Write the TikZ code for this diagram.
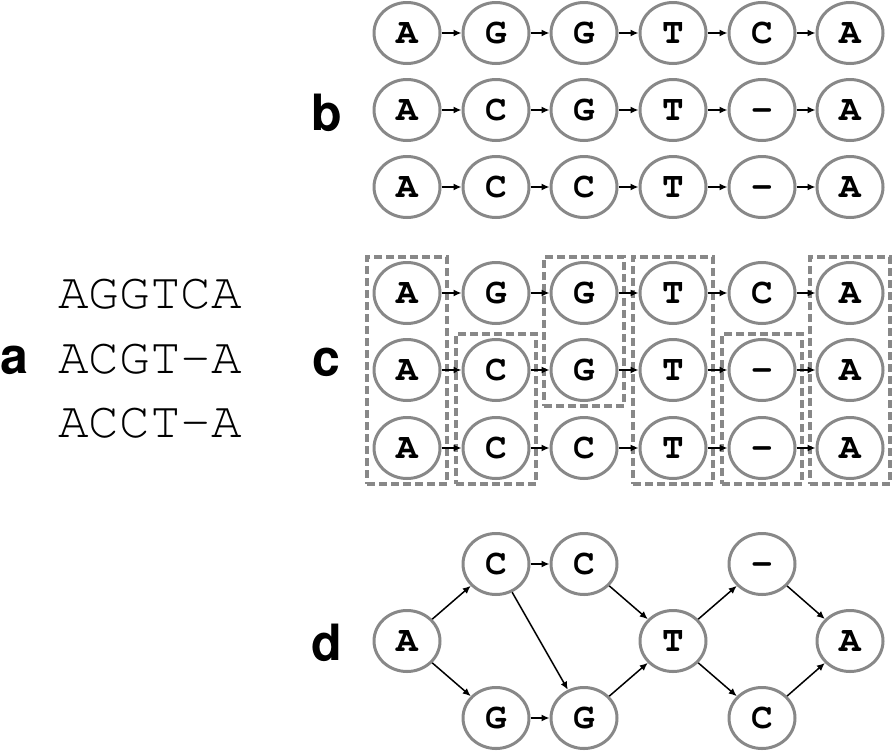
\documentclass[tikz,border=0pt]{standalone}
\usepackage[T1]{fontenc}
\usepackage{tikz}
\usetikzlibrary{arrows.meta,shapes.geometric,fit}
\definecolor{ringgray}{RGB}{136,136,136}
\newcommand\basefont{\fontencoding{T1}\fontfamily{pcr}\fontseries{b}\fontsize{36}{36}\selectfont}
\newcommand\seqfont{\fontencoding{T1}\fontfamily{pcr}\fontseries{m}\fontsize{51}{51}\selectfont}
\newcommand\tagfont{\fontencoding{T1}\fontfamily{phv}\fontseries{b}\fontsize{50}{50}\selectfont}

\begin{document}
\begin{tikzpicture}[x=1pt,y=-1pt,
    base/.style={ellipse,draw=ringgray,line width=3pt,minimum width=66pt,minimum height=61pt,inner sep=0pt,
      text height=20.5pt,text depth=0pt,font=\basefont},
    arr/.style={-{Latex[length=8pt,width=7pt]},line width=1.5pt},
    colbox/.style={draw=ringgray,line width=3.2pt,dash pattern=on 8pt off 4pt,inner xsep=5.5pt,inner ysep=4pt},
    tag/.style={anchor=base west,inner sep=0pt,font=\tagfont},
    seq/.style={anchor=base west,inner sep=0pt,font=\seqfont}]
      \useasboundingbox (0,0) rectangle (894,750);

      \node [tag] (taga) at (0,373) {a};
      \node [seq] (seq1) at (58,308) {AGGTCA};
      \node [seq] (seq2) at (58,373) {ACGT-A};
      \node [seq] (seq3) at (58,437) {ACCT-A};

      \node [tag] (tagb) at (311,130) {b};
      \node [base] (b11) at (407,33) {A};
      \node [base] (b12) at (496,33) {G};
      \node [base] (b13) at (584,33) {G};
      \node [base] (b14) at (673,33) {T};
      \node [base] (b15) at (762,33) {C};
      \node [base] (b16) at (850,33) {A};
      \node [base] (b21) at (407,110) {A};
      \node [base] (b22) at (496,110) {C};
      \node [base] (b23) at (584,110) {G};
      \node [base] (b24) at (673,110) {T};
      \node [base] (b25) at (762,110) {-};
      \node [base] (b26) at (850,110) {A};
      \node [base] (b31) at (407,187) {A};
      \node [base] (b32) at (496,187) {C};
      \node [base] (b33) at (584,187) {C};
      \node [base] (b34) at (673,187) {T};
      \node [base] (b35) at (762,187) {-};
      \node [base] (b36) at (850,187) {A};

      \draw [arr] (b11) -- (b12);
      \draw [arr] (b12) -- (b13);
      \draw [arr] (b13) -- (b14);
      \draw [arr] (b14) -- (b15);
      \draw [arr] (b15) -- (b16);
      \draw [arr] (b21) -- (b22);
      \draw [arr] (b22) -- (b23);
      \draw [arr] (b23) -- (b24);
      \draw [arr] (b24) -- (b25);
      \draw [arr] (b25) -- (b26);
      \draw [arr] (b31) -- (b32);
      \draw [arr] (b32) -- (b33);
      \draw [arr] (b33) -- (b34);
      \draw [arr] (b34) -- (b35);
      \draw [arr] (b35) -- (b36);

      \node [tag] (tagc) at (312,375) {c};
      \node [base] (c11) at (407,293) {A};
      \node [base] (c12) at (496,293) {G};
      \node [base] (c13) at (584,293) {G};
      \node [base] (c14) at (673,293) {T};
      \node [base] (c15) at (762,293) {C};
      \node [base] (c16) at (850,293) {A};
      \node [base] (c21) at (407,370) {A};
      \node [base] (c22) at (496,370) {C};
      \node [base] (c23) at (584,370) {G};
      \node [base] (c24) at (673,370) {T};
      \node [base] (c25) at (762,370) {-};
      \node [base] (c26) at (850,370) {A};
      \node [base] (c31) at (407,448) {A};
      \node [base] (c32) at (496,448) {C};
      \node [base] (c33) at (584,448) {C};
      \node [base] (c34) at (673,448) {T};
      \node [base] (c35) at (762,448) {-};
      \node [base] (c36) at (850,448) {A};

      \node [colbox,fit=(c11)(c31)] (box1) {};
      \node [colbox,fit=(c22)(c32)] (box2) {};
      \node [colbox,fit=(c13)(c23)] (box3) {};
      \node [colbox,fit=(c14)(c34)] (box4) {};
      \node [colbox,fit=(c25)(c35)] (box5) {};
      \node [colbox,fit=(c16)(c36)] (box6) {};

      \draw [arr] (c11) -- (c12);
      \draw [arr] (c12) -- (c13);
      \draw [arr] (c13) -- (c14);
      \draw [arr] (c14) -- (c15);
      \draw [arr] (c15) -- (c16);
      \draw [arr] (c21) -- (c22);
      \draw [arr] (c22) -- (c23);
      \draw [arr] (c23) -- (c24);
      \draw [arr] (c24) -- (c25);
      \draw [arr] (c25) -- (c26);
      \draw [arr] (c31) -- (c32);
      \draw [arr] (c32) -- (c33);
      \draw [arr] (c33) -- (c34);
      \draw [arr] (c34) -- (c35);
      \draw [arr] (c35) -- (c36);

      \node [tag] (tagd) at (311,660) {d};
      \node [base] (dA) at (407,641) {A};
      \node [base] (dC1) at (496,564) {C};
      \node [base] (dC2) at (584,564) {C};
      \node [base] (dG1) at (496,718) {G};
      \node [base] (dG2) at (584,718) {G};
      \node [base] (dT) at (673,641) {T};
      \node [base] (dGap) at (762,564) {-};
      \node [base] (dC3) at (762,718) {C};
      \node [base] (dA2) at (850,641) {A};

      \draw [arr] (dA) -- (dC1);
      \draw [arr] (dA) -- (dG1);
      \draw [arr] (dC1) -- (dC2);
      \draw [arr] (dC1) -- (dG2);
      \draw [arr] (dG1) -- (dG2);
      \draw [arr] (dC2) -- (dT);
      \draw [arr] (dG2) -- (dT);
      \draw [arr] (dT) -- (dGap);
      \draw [arr] (dT) -- (dC3);
      \draw [arr] (dGap) -- (dA2);
      \draw [arr] (dC3) -- (dA2);

    \end{tikzpicture}
\end{document}
